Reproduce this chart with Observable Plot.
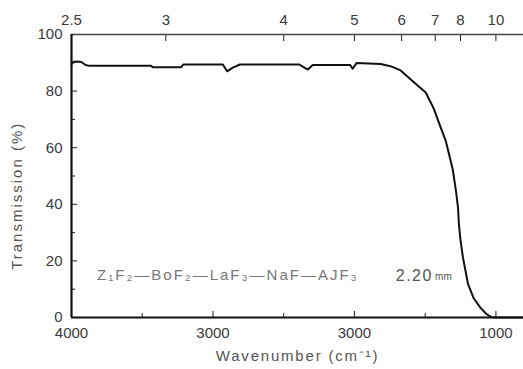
<!DOCTYPE html>
<html><head><meta charset="utf-8">
<script src="https://cdn.jsdelivr.net/npm/d3@7"></script>
<script src="https://cdn.jsdelivr.net/npm/@observablehq/plot@0.6"></script>
<style>
body{margin:0;background:#fff;}
</style></head><body><div id="chart"></div>
<script>
const wavenumber = [4000,3990,3960,3930,3900,3880,3650,3440,3425,3225,3210,2930,2900,2860,2810,2390,2330,2295,2030,2013,1985,1815,1745,1673,1600,1496,1440,1390,1355,1333,1305,1283,1268,1262,1250,1233,1198,1156,1110,1071,1036,1000,805];
const transmission = [89.5,90.3,90.5,90.3,89.2,89.0,89.0,89.0,88.4,88.4,89.4,89.4,87.0,88.3,89.4,89.4,87.6,89.2,89.2,87.9,89.9,89.6,88.8,87.3,84.0,79.5,73.9,67.1,62.5,58.0,52.3,44.9,38.9,33.2,27.2,21.2,12.0,6.7,3.5,1.4,0.2,0,0];

const yTicks = [0,20,40,60,80,100];
const yMinorTicks = [10,30,50,70,90];
const xTicks = [4000,3000,2000,1000];
const xTickLabels = ["4000","3000","3000","1000"];
const xMinorTicks = [3500,2500,1500];
const wavelengthTicks = [2.5,3,4,5,6,7,8,10];
const wavelengthLabels = ["2.5","3","4","5","6","7","8","10"];

const yLabel = ["Transmission (%)"];
const yLabelX = [4386];
const yLabelY = [43];
const xLabel = ["Wavenumber (cm⁻¹)"];
const noteText = ["Z₁F₂—BoF₂—LaF₃—NaF—AJF₃"];
const noteX = [3819];
const noteY = [14.8];
const thickText = ["2.20"];
const thickX = [1708];
const unitText = ["mm"];
const unitX = [1430];

const rows = wavenumber.map((w, i) => ({w, t: transmission[i]}));
const xLabMap = new Map(xTicks.map((t, i) => [t, xTickLabels[i]]));
const wlPos = wavelengthTicks.map(w => 1e4 / w);
const wlMap = new Map(wlPos.map((p, i) => [p, wavelengthLabels[i]]));

const chart = Plot.plot({
  width: 523,
  height: 369,
  marginLeft: 71,
  marginRight: 0,
  marginTop: 34,
  marginBottom: 52,
  style: {fontFamily: "'Liberation Sans', Arial, sans-serif", fontSize: "15px", color: "#3a3a3a", background: "#fff"},
  x: {domain: [4000, 805]},
  y: {domain: [0, 100]},
  marks: [
    Plot.axisY({ticks: yTicks, tickSize: -6, tickPadding: 15, label: null, stroke: "#222"}),
    Plot.axisY({ticks: yMinorTicks, tickSize: -4, tickFormat: () => "", label: null, stroke: "#222"}),
    Plot.axisX({ticks: xTicks, tickSize: -6, tickPadding: 16, tickFormat: d => xLabMap.get(d), label: null, stroke: "#222"}),
    Plot.axisX({ticks: xMinorTicks, tickSize: -4, tickFormat: () => "", label: null, stroke: "#222"}),
    Plot.axisX({ticks: wlPos, anchor: "top", tickSize: -6, tickPadding: 16, tickFormat: d => wlMap.get(d), label: null, stroke: "#222"}),
    Plot.ruleY([100], {stroke: "#444", strokeWidth: 1.5}),
    Plot.ruleY([0], {stroke: "#111", strokeWidth: 2.2}),
    Plot.ruleX([4000], {stroke: "#111", strokeWidth: 2.2}),
    Plot.line(rows, {x: "w", y: "t", stroke: "#111", strokeWidth: 2}),
    Plot.text(noteText, {x: noteX, y: noteY, text: d => d, textAnchor: "start", fontSize: 15, fill: "#777"}),
    Plot.text(thickText, {x: thickX, y: noteY, text: d => d, textAnchor: "start", fontSize: 16, fill: "#555"}),
    Plot.text(unitText, {x: unitX, y: noteY, text: d => d, textAnchor: "start", fontSize: 10, fill: "#555", dy: 1}),
    Plot.text(yLabel, {x: yLabelX, y: yLabelY, rotate: -90, text: d => d, fontSize: 15, fill: "#555", clip: false}),
    Plot.text(xLabel, {frameAnchor: "bottom", dy: 43, text: d => d, fontSize: 15, fill: "#555"})
  ]
});
const spacing = new Map([[yLabel[0], "2px"], [xLabel[0], "1.8px"], [noteText[0], "2px"], [thickText[0], "1.5px"]]);
d3.select(chart).selectAll("text").each(function() {
  const s = spacing.get(this.textContent);
  if (s) d3.select(this).style("letter-spacing", s);
});
document.getElementById("chart").appendChild(chart);
</script></body></html>
